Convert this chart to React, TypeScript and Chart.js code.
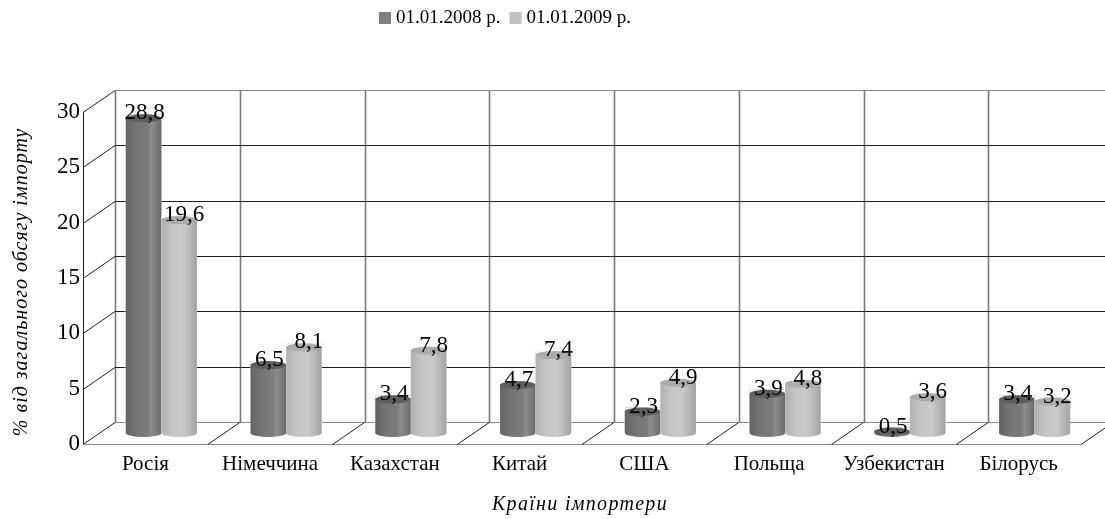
import React, { useEffect, useRef } from 'react';
import { Chart, registerables } from 'chart.js';

Chart.register(...registerables);

const categories = ['Росія', 'Німеччина', 'Казахстан', 'Китай', 'США', 'Польща', 'Узбекистан', 'Білорусь'];
const values2008 = [28.8, 6.5, 3.4, 4.7, 2.3, 3.9, 0.5, 3.4];
const values2009 = [19.6, 8.1, 7.8, 7.4, 4.9, 4.8, 3.6, 3.2];
const seriesLabels = ['01.01.2008 р.', '01.01.2009 р.'];
const yTicks = [0, 5, 10, 15, 20, 25, 30];
const yAxisTitle = '% від загального обсягу імпорту';
const xAxisTitle = 'Країни імпортери';

const FONT = "'Liberation Serif', 'Times New Roman', serif";
const DEPTH_X = 16;
const DEPTH_Y = 11;
const BAR_COLORS = ['#7a7a7a', '#c0c0c0'];
const LEGEND_COLORS = ['#808080', '#c0c0c0'];

const fmt = (v: number) => v.toFixed(1).replace('.', ',');

const grid3dPlugin = {
  id: 'grid3d',
  beforeDatasetsDraw(chart: any) {
    const { ctx, chartArea, scales } = chart;
    const { left, right } = chartArea;
    const y = scales.y;
    const n = categories.length;
    const cw = (right - left) / n;
    const y0 = y.getPixelForValue(yTicks[0]);
    const yTop = y.getPixelForValue(yTicks[yTicks.length - 1]);
    const ln = (x1: number, y1: number, x2: number, y2: number) => {
      ctx.beginPath();
      ctx.moveTo(x1, y1);
      ctx.lineTo(x2, y2);
      ctx.stroke();
    };
    ctx.save();
    ctx.strokeStyle = '#7a7a7a';
    ctx.lineWidth = 1.6;
    for (let k = 0; k <= n; k++) {
      const bx = Math.round(left + k * cw + DEPTH_X) + 0.5;
      ln(bx, y0 - DEPTH_Y, bx, yTop - DEPTH_Y);
    }
    ctx.lineWidth = 1;
    yTicks.forEach((v, i) => {
      const py = Math.round(y.getPixelForValue(v) - DEPTH_Y) + 0.5;
      ctx.strokeStyle = i === 0 || i === yTicks.length - 1 ? '#8a8a8a' : '#202020';
      ln(left + DEPTH_X, py, right + DEPTH_X, py);
      ctx.strokeStyle = '#202020';
      ln(left - DEPTH_X, py + 2 * DEPTH_Y, left + DEPTH_X, py);
    });
    ctx.strokeStyle = '#202020';
    const fx = Math.round(left - DEPTH_X) + 0.5;
    ln(fx, y0 + DEPTH_Y, fx, yTop + DEPTH_Y);
    const fy = Math.round(y0 + DEPTH_Y) + 0.5;
    ctx.strokeStyle = '#8a8a8a';
    ln(left - DEPTH_X, fy, right - DEPTH_X, fy);
    ctx.strokeStyle = '#202020';
    for (let k = 1; k <= n; k++) {
      const bx = left + k * cw;
      ln(bx - DEPTH_X, fy, bx + DEPTH_X, fy - 2 * DEPTH_Y);
    }
    ctx.restore();
  },
};

const cylinderPlugin = {
  id: 'cylinders',
  afterDatasetsDraw(chart: any) {
    const { ctx } = chart;
    const stops = [
      [[0, '#646464'], [0.3, '#747474'], [0.62, '#7c7c7c'], [0.72, '#8c8c8c'], [0.85, '#7e7e7e'], [1, '#6a6a6a']],
      [[0, '#b2b2b2'], [0.3, '#c4c4c4'], [0.6, '#cacaca'], [0.75, '#bcbcbc'], [0.88, '#b0b0b0'], [1, '#a2a2a2']],
    ];
    const tops = ['#5e5e5e', '#acacac'];
    const ry = 4;
    chart.data.datasets.forEach((ds: any, di: number) => {
      const meta = chart.getDatasetMeta(di);
      meta.data.forEach((el: any) => {
        const { x, y, base, width } = el.getProps(['x', 'y', 'base', 'width'], true);
        const l = x - width / 2;
        const r = x + width / 2;
        const ty = Math.min(y + ry, base);
        const g = ctx.createLinearGradient(l, 0, r, 0);
        stops[di].forEach((s: any) => g.addColorStop(s[0], s[1]));
        ctx.save();
        ctx.fillStyle = '#fff';
        ctx.fillRect(l, y, width, base - y);
        ctx.fillStyle = g;
        ctx.beginPath();
        ctx.moveTo(l, ty);
        ctx.lineTo(l, base);
        ctx.ellipse(x, base, width / 2, ry, 0, Math.PI, 0, true);
        ctx.lineTo(r, ty);
        ctx.closePath();
        ctx.fill();
        ctx.fillStyle = tops[di];
        ctx.beginPath();
        ctx.ellipse(x, ty, width / 2, ry, 0, 0, Math.PI * 2);
        ctx.fill();
        ctx.restore();
      });
    });
    ctx.save();
    ctx.font = `23px ${FONT}`;
    ctx.fillStyle = '#000';
    ctx.textAlign = 'center';
    ctx.textBaseline = 'middle';
    const dx = [1, 5];
    chart.data.datasets.forEach((ds: any, di: number) => {
      const meta = chart.getDatasetMeta(di);
      meta.data.forEach((el: any, i: number) => {
        const { x, y } = el.getProps(['x', 'y'], true);
        ctx.fillText(fmt(ds.data[i]), x + dx[di], y - 1);
      });
    });
    ctx.restore();
  },
  afterDraw(chart: any) {
    const { ctx, chartArea } = chart;
    ctx.save();
    // legend
    ctx.font = `19px ${FONT}`;
    ctx.textBaseline = 'middle';
    ctx.textAlign = 'left';
    const box = 12;
    const gap = 5;
    const itemGap = 9;
    const widths = chart.data.datasets.map((d: any) => box + gap + ctx.measureText(d.label).width);
    const total = widths.reduce((a: number, b: number) => a + b, 0) + itemGap * (widths.length - 1);
    let cx = 505 - total / 2;
    const cy = 18;
    chart.data.datasets.forEach((d: any, i: number) => {
      ctx.fillStyle = LEGEND_COLORS[i];
      ctx.fillRect(cx, cy - box / 2, box, box);
      ctx.fillStyle = '#000';
      ctx.fillText(d.label, cx + box + gap, cy);
      cx += widths[i] + itemGap;
    });
    // axis titles
    ctx.font = `italic 20px ${FONT}`;
    (ctx as any).letterSpacing = '1.3px';
    ctx.textAlign = 'center';
    ctx.fillText(xAxisTitle, (chartArea.left + chartArea.right) / 2 - DEPTH_X - 2, 505);
    (ctx as any).letterSpacing = '1px';
    ctx.translate(22, (chartArea.top + chartArea.bottom) / 2 + 15);
    ctx.rotate(-Math.PI / 2);
    ctx.fillText(yAxisTitle, 0, 0);
    ctx.restore();
  },
};

export default function App() {
  const ref = useRef<HTMLCanvasElement | null>(null);
  useEffect(() => {
    if (!ref.current) return;
    const chart = new Chart(ref.current, {
      type: 'bar',
      data: {
        labels: categories,
        datasets: [
          { label: seriesLabels[0], data: values2008, backgroundColor: BAR_COLORS[0], borderWidth: 0 },
          { label: seriesLabels[1], data: values2009, backgroundColor: BAR_COLORS[1], borderWidth: 0 },
        ],
      },
      options: {
        responsive: false,
        animation: false,
        devicePixelRatio: 1,
        layout: { padding: { top: 101, right: 8, left: 0, bottom: 0 } },
        datasets: { bar: { categoryPercentage: 0.57, barPercentage: 1 } },
        plugins: { legend: { display: false }, tooltip: { enabled: false } },
        scales: {
          x: {
            grid: { display: false, drawTicks: false },
            border: { display: false },
            ticks: {
              font: { family: FONT, size: 21 },
              color: '#000',
              padding: 19,
              labelOffset: -DEPTH_X,
              maxRotation: 0,
              autoSkip: false,
            },
            afterFit: (s: any) => {
              s.height = 86;
            },
          },
          y: {
            min: 0,
            max: 30,
            grid: { display: false, drawTicks: false },
            border: { display: false },
            ticks: {
              stepSize: 5,
              font: { family: FONT, size: 23 },
              color: '#000',
              padding: 19,
              labelOffset: DEPTH_Y,
            },
            afterFit: (s: any) => {
              s.width = 99;
            },
          },
        },
      },
      plugins: [grid3dPlugin, cylinderPlugin],
    });
    return () => chart.destroy();
  }, []);
  return (
    <div style={{ position: 'absolute', left: 0, top: 0, width: 1105, height: 519, background: '#fff' }}>
      <canvas ref={ref} width={1105} height={519} />
    </div>
  );
}
